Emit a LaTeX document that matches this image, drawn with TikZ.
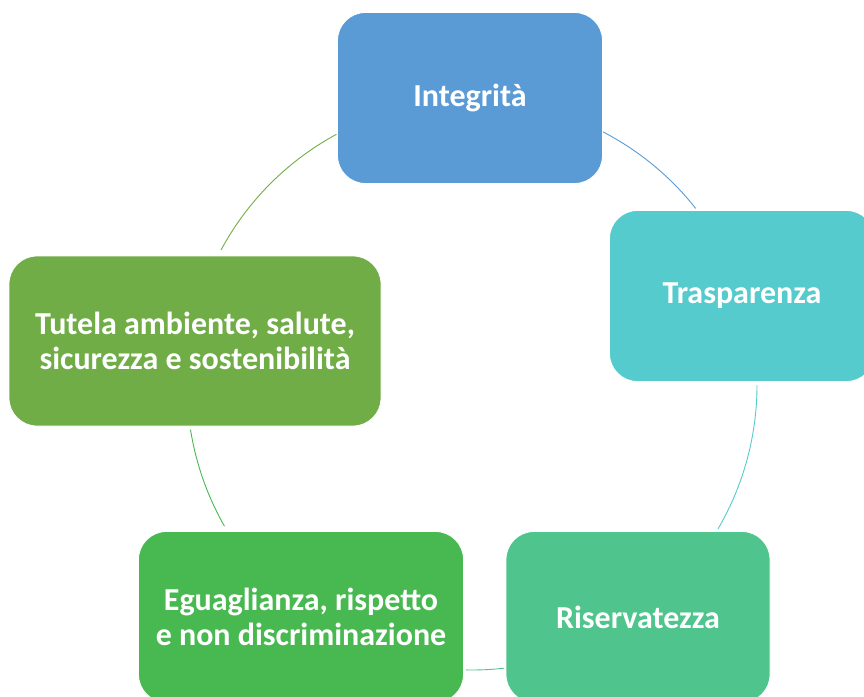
\documentclass[tikz,border=0pt]{standalone}
\usepackage{fontspec}
\setmainfont{Carlito}
\usetikzlibrary{positioning,calc}
\definecolor{integblue}{rgb}{0.357, 0.608, 0.835}
\definecolor{traspcyan}{rgb}{0.333, 0.796, 0.804}
\definecolor{riservgreen}{rgb}{0.310, 0.773, 0.553}
\definecolor{egualgreen}{rgb}{0.282, 0.725, 0.314}
\definecolor{tutelagreen}{rgb}{0.439, 0.678, 0.278}

\tikzset{
	valuebox/.style={rectangle, rounded corners=28pt, draw=white, line width=0.8pt, minimum height=171pt, align=center, text=white, font=\fontsize{32}{35}\selectfont\bfseries},
	ringarc/.style={line width=0.9pt}
}

\begin{document}
\begin{tikzpicture}[x=1pt,y=1pt]
		
		\useasboundingbox (0,0) rectangle (864,-696);
		
		\coordinate (O) at (472,-385);
		
		\draw [integblue,ringarc] ([shift={(62.7:285pt)}]O) arc[start angle=62.7, end angle=38.3, radius=285pt];
		\draw [traspcyan,ringarc] ([shift={(0:285pt)}]O) arc[start angle=0, end angle=-30.3, radius=285pt];
		\draw [riservgreen,ringarc] ([shift={(-83.6:285pt)}]O) arc[start angle=-83.6, end angle=-91.2, radius=285pt];
		\draw [egualgreen,ringarc] ([shift={(209.7:285pt)}]O) arc[start angle=209.7, end angle=189, radius=285pt];
		\draw [tutelagreen,ringarc] ([shift={(151.7:285pt)}]O) arc[start angle=151.7, end angle=118.4, radius=285pt];
		
		\node[valuebox, fill=integblue, minimum width=265pt] (integ) at (470,-98) {Integrità};
		
		\node[valuebox, fill=traspcyan, minimum width=265pt] (trasp) at (742,-296) {Trasparenza};
		
		\node[valuebox, fill=riservgreen, minimum width=264pt] (riserv) at (638,-617) {Riservatezza};
		
		\node[valuebox, fill=egualgreen, minimum width=325pt] (egual) at (301,-617) {Eguaglianza, rispetto\\e non discriminazione};
		
		\node[valuebox, fill=tutelagreen, minimum width=372pt, minimum height=170pt] (tutela) at (195,-341) {Tutela ambiente, salute,\\sicurezza e sostenibilità};
		
\end{tikzpicture}
\end{document}
